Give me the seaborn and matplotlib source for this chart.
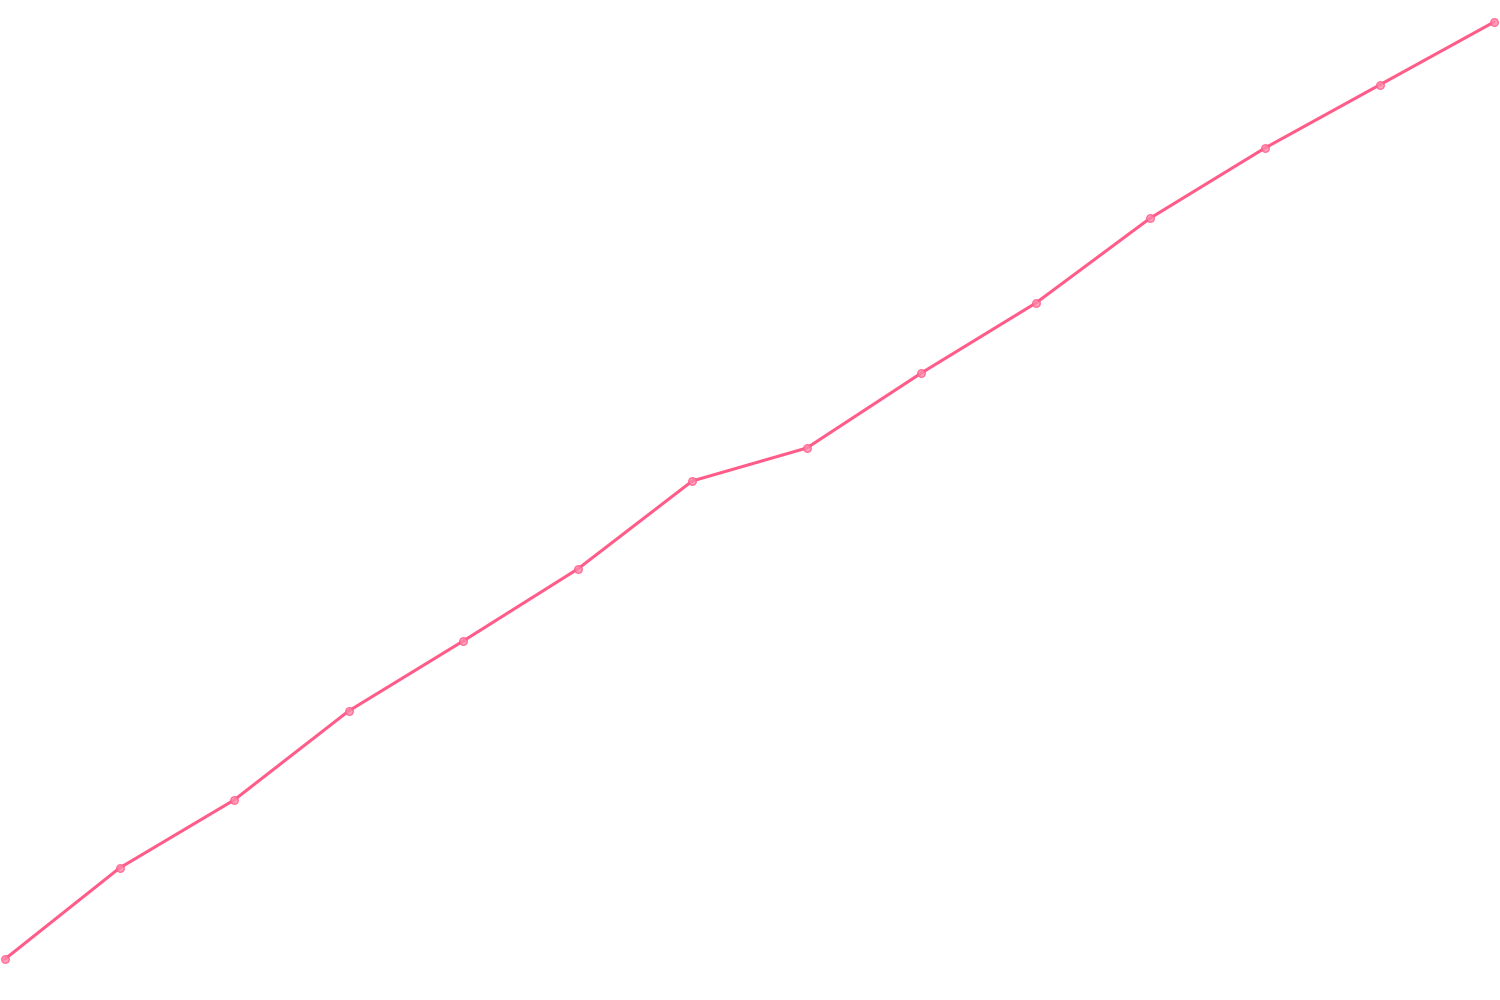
import numpy as np
import pandas as pd
import seaborn as sns
from matplotlib import pyplot as plt

# data (14 evenly spaced points)
steps = list(range(14))
values = [41, 132, 200, 289, 359, 431, 519, 552, 627, 697, 782, 852, 915, 978]

df = pd.DataFrame({"step": steps, "value": values})

sns.set_style("white")
fig = plt.figure(figsize=(15, 10), dpi=100)
ax = fig.add_axes([0, 0, 1, 1])

col = "#ff5c8a"
sns.lineplot(data=df, x="step", y="value", ax=ax, color=col, linewidth=2.2)
sns.scatterplot(data=df, x="step", y="value", ax=ax, color="#ff8aab", s=30,
                alpha=0.8, edgecolor=col, linewidth=1.0, zorder=3)

ax.set_xlim(-0.044, 13.052)
ax.set_ylim(0, 1000)
ax.axis("off")

fig.savefig("out.png", dpi=100)
